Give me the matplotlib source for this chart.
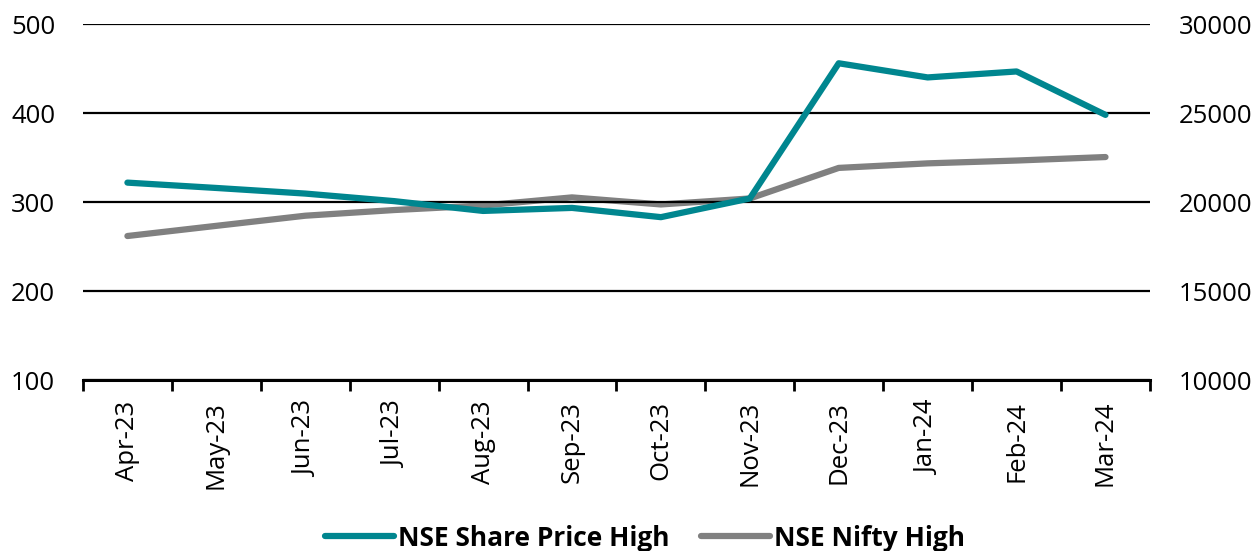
import matplotlib
matplotlib.use("Agg")
import matplotlib.pyplot as plt
import numpy as np

months = ["Apr-23", "May-23", "Jun-23", "Jul-23", "Aug-23", "Sep-23",
          "Oct-23", "Nov-23", "Dec-23", "Jan-24", "Feb-24", "Mar-24"]
share_high = [321.8, 315.8, 309.5, 301, 290, 293.4, 283, 304, 455.9, 440, 446.7, 397.9]
nifty_high = [18090, 18662, 19231, 19550, 19805, 20260, 19864, 20200, 21917, 22172, 22331, 22527]

left_ticks = [100, 200, 300, 400, 500]
right_ticks = [10000, 15000, 20000, 25000, 30000]

teal = "#00868F"
gray = "#808080"

plt.rcParams['font.family'] = ['Open Sans', 'DejaVu Sans']

fig = plt.figure(figsize=(12.55, 5.51), dpi=100)
ax = fig.add_axes([0.0661, 0.3103, 0.9163 - 0.0661, 0.9564 - 0.3103])
ax2 = ax.twinx()

x = np.arange(len(months))
l1, = ax.plot(x, share_high, color=teal, lw=4.5, solid_capstyle='round',
              solid_joinstyle='round', label="NSE Share Price High", zorder=3)
l2, = ax2.plot(x, nifty_high, color=gray, lw=4.5, solid_capstyle='round',
               solid_joinstyle='round', label="NSE Nifty High", zorder=2)

ax.set_ylim(100, 500)
ax2.set_ylim(10000, 30000)
ax.set_yticks(left_ticks)
ax2.set_yticks(right_ticks)
ax.set_xlim(-0.5, len(months) - 0.5)

ax.grid(axis='y', color='black', lw=1.6)
ax.set_axisbelow(True)
for a in (ax, ax2):
    for s in ('top', 'left', 'right', 'bottom'):
        a.spines[s].set_visible(False)
ax.spines['bottom'].set_visible(True)
ax.spines['bottom'].set_linewidth(2.2)
ax.spines['bottom'].set_color('black')

ax.set_xticks(np.arange(-0.5, len(months) + 0.5, 1.0))
ax.set_xticklabels([])
ax.tick_params(axis='x', which='major', length=8, width=2.0, direction='out', color='black')
ax.set_xticks(x, minor=True)
ax.set_xticklabels(months, minor=True, rotation=90, fontsize=18.5)
ax.tick_params(axis='x', which='minor', length=0, pad=15)

ax.tick_params(axis='y', length=0, labelsize=18.5, pad=20)
ax2.tick_params(axis='y', length=0, labelsize=18.5, pad=21)

ax.patch.set_visible(False)
ax.set_zorder(ax2.get_zorder() + 1)

fig.legend([l1, l2], ["NSE Share Price High", "NSE Nifty High"], loc='center',
           bbox_to_anchor=(0.514, 1 - 538 / 551), ncol=2, frameon=False,
           prop={'weight': 'bold', 'size': 19}, handlelength=2.6, handletextpad=0.15,
           columnspacing=1.2, borderpad=0)

fig.savefig("out.png", dpi=100)
